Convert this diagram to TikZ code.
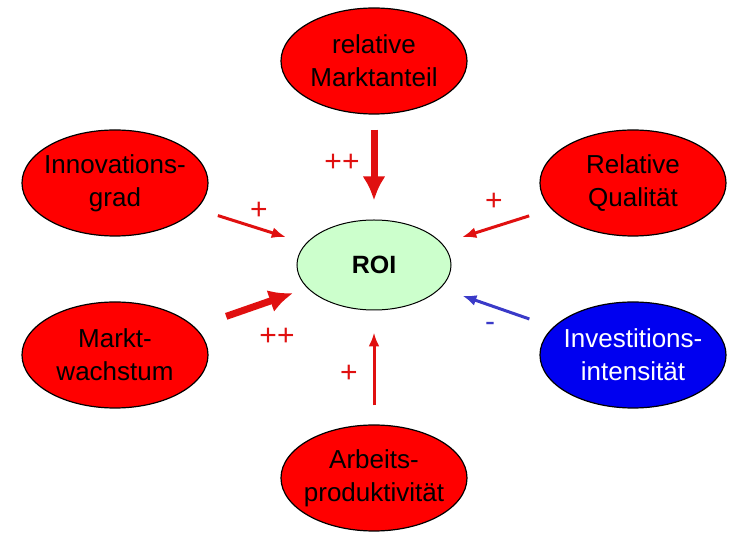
\documentclass[tikz,border=0pt]{standalone}
\usepackage{fontspec}
\setmainfont{Liberation Sans}
\usetikzlibrary{arrows.meta,shapes.geometric}
\definecolor{factorred}{HTML}{FF0000}
\definecolor{arrowred}{HTML}{E01010}
\definecolor{factorblue}{HTML}{0000F0}
\definecolor{arrowblue}{HTML}{3A3AC8}
\definecolor{roigreen}{HTML}{CCFFCC}
\tikzset{
  factor/.style={
    ellipse,
    draw=black,
    fill=factorred,
    line width=0.6pt,
    align=center,
    minimum width=93pt,
    minimum height=53pt,
    inner xsep=-14pt,
    inner ysep=0pt,
    font=\fontsize{13}{16.5}\selectfont
  },
  negfactor/.style={
    factor,
    fill=factorblue,
    text=white
  },
  target/.style={
    ellipse,
    draw=black,
    fill=roigreen,
    line width=0.5pt,
    minimum width=77pt,
    minimum height=45pt,
    inner sep=0pt,
    font=\bfseries\fontsize{12.5}{15}\selectfont
  },
  effect/.style={
    -{Latex[length=7pt,width=5.5pt]},
    line width=1.5pt,
    draw=arrowred
  },
  strongeffect/.style={
    effect,
    -{Latex[length=12pt,width=11.5pt]},
    line width=3.5pt
  },
  negeffect/.style={
    effect,
    draw=arrowblue
  },
  signlabel/.style={
    text=arrowred,
    inner sep=0pt,
    font=\fontsize{15}{18}\selectfont
  }
}

\begin{document}
\begin{tikzpicture}[x=0.5pt, y=0.5pt]
    \useasboundingbox (0,0) rectangle (746,541);

    \node[target] (roi) at (374,276) {ROI};

    \node[factor] (mkt) at (374,480) {relative\\Marktanteil};
    \node[factor] (inno) at (115,358) {Innovations-\\grad};
    \node[factor] (qual) at (633,358) {Relative\\Qualität};
    \node[factor] (wachs) at (115,186) {Markt-\\wachstum};
    \node[negfactor] (invest) at (633,186) {Investitions-\\intensität};
    \node[factor] (arbeit) at (374,63) {Arbeits-\\produktivität};

    \draw[strongeffect, shorten <=7.5pt, shorten >=9.5pt] (mkt) -- (roi);
    \draw[effect, shorten <=11pt, shorten >=10.5pt] (inno) -- (roi);
    \draw[effect, shorten <=11.5pt, shorten >=10.5pt] (qual) -- (roi);
    \draw[strongeffect, shorten <=16.5pt, shorten >=7.5pt] (wachs) -- (roi);
    \draw[negeffect, shorten <=12.5pt, shorten >=11.5pt] (invest) -- (roi);
    \draw[effect, shorten <=9.5pt, shorten >=11pt] (arbeit) -- (roi);

    \node[signlabel] (lblmkt) at (342,378) {++};
    \node[signlabel] (lblinno) at (259,330) {+};
    \node[signlabel] (lblqual) at (494,339) {+};
    \node[signlabel] (lblwachs) at (277,204) {++};
    \node[signlabel, text=arrowblue] (lblinvest) at (490,214) {-};
    \node[signlabel] (lblarbeit) at (349,167) {+};
\end{tikzpicture}
\end{document}
